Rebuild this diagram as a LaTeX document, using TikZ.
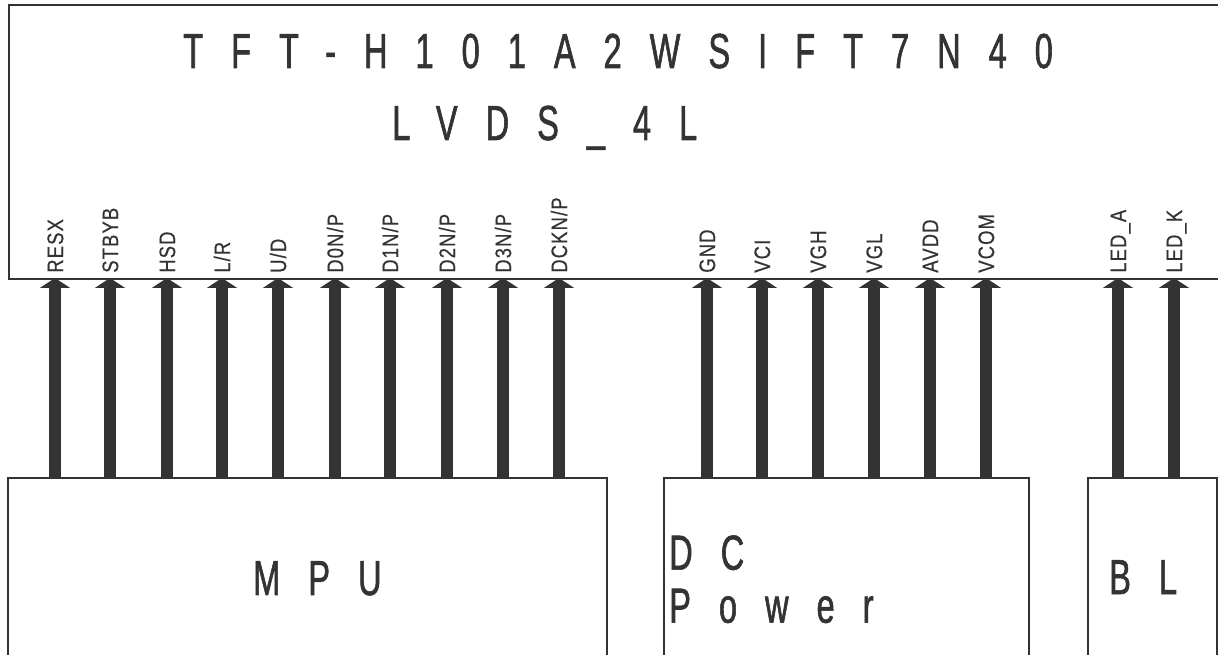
\documentclass[tikz,border=0pt]{standalone}
\usepackage{fontspec}
\usetikzlibrary{arrows.meta}
\newfontfamily\cadfont[FakeStretch=0.66, LetterSpace=57, FakeBold=1.2]{Liberation Sans}
\newfontfamily\pinfont[FakeStretch=0.82, LetterSpace=5, FakeBold=0.4]{Liberation Sans}
\definecolor{ink}{HTML}{333333}

\begin{document}
\begin{tikzpicture}[x=0.025cm, y=-0.025cm,
  box/.style={draw=ink, line width=1.4pt, inner sep=0pt, anchor=north west},
  big/.style={font=\cadfont\fontsize{35}{37.7}\selectfont, text=ink, inner sep=0pt},
  pin/.style={font=\pinfont\fontsize{16}{16}\selectfont, text=ink, rotate=90,
              anchor=west, inner sep=0pt, text height=11.5pt, text depth=0pt},
  sig/.style={draw=ink, line width=8.5pt, -{Triangle[width=21.3pt, length=7.1pt]}}]

  \clip (0,0) rectangle (1218,655);

  % Panel and the three driving blocks
  \node[box, minimum width=30.55cm, minimum height=6.85cm] (lcd) at (8,4) {};
  \node[box, minimum width=14.975cm, minimum height=4.575cm] (mpu) at (7,477) {};
  \node[box, minimum width=9.125cm, minimum height=4.575cm] (dcp) at (663,477) {};
  \node[box, minimum width=3.225cm, minimum height=4.575cm] (bl) at (1087,477) {};

  % Texts
  \node[big, anchor=base west] (title) at (183,68) {TFT-H101A2WSIFT7N40};
  \node[big, anchor=base west] (iface) at (392,140) {LVDS\_4L};
  \node[big, anchor=base west] (mputxt) at (253,595) {MPU};
  \node[big, anchor=north west, align=left] (dctxt) at (669,535) {DC\\Power};
  \node[big, anchor=base west] (bltxt) at (1109,594) {BL};

  % Signal pins: MPU group
  \foreach \x/\lbl [count=\i] in {55/RESX, 110/STBYB, 167/HSD, 222/{L/R}, 278/{U/D},
      335/{D0N/P}, 390/{D1N/P}, 447/{D2N/P}, 503/{D3N/P}, 559/{DCKN/P}} {
    \coordinate (m\i) at (\x,278);
    \node[pin] at (\x,273) {\lbl};
    \draw[sig] (m\i |- mpu.north) -- (m\i);
  }

  % Power group
  \foreach \x/\lbl [count=\i] in {707/GND, 762/VCI, 818/VGH, 874/VGL, 930/AVDD, 986/VCOM} {
    \coordinate (d\i) at (\x,278);
    \node[pin] at (\x,273) {\lbl};
    \draw[sig] (d\i |- dcp.north) -- (d\i);
  }

  % Backlight group
  \foreach \x/\lbl [count=\i] in {1118/LED\_A, 1174/LED\_K} {
    \coordinate (b\i) at (\x,278);
    \node[pin] at (\x,273) {\lbl};
    \draw[sig] (b\i |- bl.north) -- (b\i);
  }

\end{tikzpicture}
\end{document}
